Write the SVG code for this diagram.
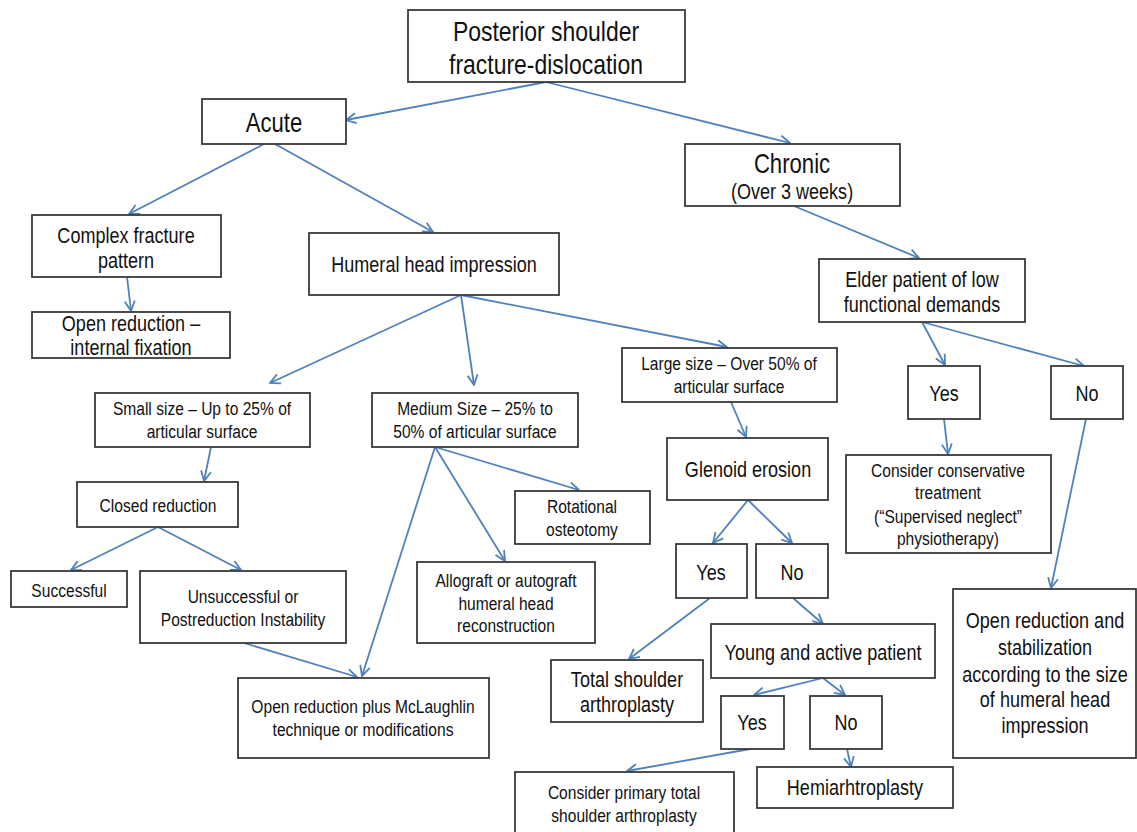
<svg xmlns="http://www.w3.org/2000/svg" width="1137" height="832" viewBox="0 0 1137 832">
<defs>
<style>
.b{fill:#fff;stroke:#3a3a3a;stroke-width:1.8}
text{font-family:"Liberation Sans",Arial,sans-serif;fill:#111;text-anchor:middle}
.s{font-size:19px}
.m{font-size:22px}
.l{font-size:27px}
.c line{stroke:#4f81bd;stroke-width:1.8;marker-end:url(#ah)}
</style>
<marker id="ah" viewBox="0 0 12 12" refX="11" refY="6" markerWidth="12" markerHeight="12" markerUnits="userSpaceOnUse" orient="auto">
<path d="M1,1 L11,6 L1,11" fill="none" stroke="#4f81bd" stroke-width="1.8"/>
</marker>
</defs>
<rect width="1137" height="832" fill="#fff"/>
<g class="c" id="connectors">
<line x1="546" y1="82" x2="346" y2="120"/>
<line x1="546" y1="82" x2="790" y2="143"/>
<line x1="264" y1="144" x2="129" y2="214"/>
<line x1="275" y1="144" x2="433" y2="232"/>
<line x1="127" y1="277" x2="131" y2="311"/>
<line x1="461" y1="295" x2="270" y2="383"/>
<line x1="461" y1="295" x2="474" y2="385"/>
<line x1="461" y1="295" x2="727" y2="347"/>
<line x1="794" y1="206" x2="919" y2="258"/>
<line x1="922" y1="322" x2="945" y2="365"/>
<line x1="922" y1="322" x2="1084" y2="366"/>
<line x1="211" y1="447" x2="204" y2="481"/>
<line x1="435" y1="447" x2="362" y2="676"/>
<line x1="435" y1="447" x2="505" y2="561"/>
<line x1="435" y1="447" x2="579" y2="490"/>
<line x1="731" y1="402" x2="746" y2="437"/>
<line x1="944" y1="419" x2="948" y2="454"/>
<line x1="1086" y1="419" x2="1051" y2="588"/>
<line x1="748" y1="500" x2="713" y2="543"/>
<line x1="748" y1="500" x2="792" y2="543"/>
<line x1="158" y1="527" x2="71" y2="570"/>
<line x1="158" y1="527" x2="241" y2="570"/>
<line x1="244" y1="643" x2="357" y2="677"/>
<line x1="710" y1="598" x2="629" y2="659"/>
<line x1="793" y1="598" x2="823" y2="624"/>
<line x1="823" y1="678" x2="754" y2="695"/>
<line x1="823" y1="678" x2="845" y2="695"/>
<line x1="750" y1="749" x2="627" y2="771"/>
<line x1="847" y1="749" x2="851" y2="767"/>
</g>
<g id="root"><rect class="b" x="408" y="10" width="277" height="72"/><text style="font-size:28px" transform="translate(546 41) scale(.82 1)">Posterior shoulder</text><text style="font-size:28px" transform="translate(546 74) scale(.82 1)">fracture-dislocation</text></g>
<g id="acute"><rect class="b" x="202" y="99" width="144" height="45"/><text class="l" transform="translate(274 132) scale(.82 1)">Acute</text></g>
<g id="chronic"><rect class="b" x="685" y="144" width="215" height="62"/><text class="l" transform="translate(792 173) scale(.82 1)">Chronic</text><text style="font-size:22px" transform="translate(792 199) scale(.82 1)">(Over 3 weeks)</text></g>
<g id="complex"><rect class="b" x="32" y="215" width="189" height="62"/><text class="m" transform="translate(126 243) scale(.82 1)">Complex fracture</text><text class="m" transform="translate(126 268) scale(.82 1)">pattern</text></g>
<g id="orif"><rect class="b" x="32" y="312" width="198" height="46"/><text class="m" transform="translate(131 331) scale(.82 1)">Open reduction –</text><text class="m" transform="translate(131 355) scale(.82 1)">internal fixation</text></g>
<g id="humeral"><rect class="b" x="309" y="233" width="250" height="62"/><text class="m" transform="translate(434 272) scale(.82 1)">Humeral head impression</text></g>
<g id="elder"><rect class="b" x="819" y="259" width="206" height="63"/><text class="m" transform="translate(922 287) scale(.82 1)">Elder patient of low</text><text class="m" transform="translate(922 312) scale(.82 1)">functional demands</text></g>
<g id="large"><rect class="b" x="622" y="348" width="215" height="54"/><text class="s" transform="translate(729 370) scale(.82 1)">Large size – Over 50% of</text><text class="s" transform="translate(729 393) scale(.82 1)">articular surface</text></g>
<g id="yes1"><rect class="b" x="908" y="366" width="72" height="53"/><text class="m" transform="translate(944 401) scale(.82 1)">Yes</text></g>
<g id="no1"><rect class="b" x="1051" y="366" width="72" height="53"/><text class="m" transform="translate(1087 401) scale(.82 1)">No</text></g>
<g id="small"><rect class="b" x="95" y="393" width="215" height="54"/><text class="s" transform="translate(202 415) scale(.82 1)">Small size – Up to 25% of</text><text class="s" transform="translate(202 438) scale(.82 1)">articular surface</text></g>
<g id="medium"><rect class="b" x="372" y="393" width="206" height="54"/><text class="s" transform="translate(475 415) scale(.82 1)">Medium Size – 25% to</text><text class="s" transform="translate(475 438) scale(.82 1)">50% of articular surface</text></g>
<g id="glenoid"><rect class="b" x="667" y="438" width="161" height="62"/><text class="m" transform="translate(748 477) scale(.82 1)">Glenoid erosion</text></g>
<g id="conservative"><rect class="b" x="846" y="455" width="205" height="98"/><text class="s" transform="translate(948 477) scale(.82 1)">Consider conservative</text><text class="s" transform="translate(948 499) scale(.82 1)">treatment</text><text class="s" transform="translate(948 523) scale(.82 1)">(“Supervised neglect”</text><text class="s" transform="translate(948 545) scale(.82 1)">physiotherapy)</text></g>
<g id="closed"><rect class="b" x="77" y="482" width="161" height="45"/><text class="s" transform="translate(158 512) scale(.82 1)">Closed reduction</text></g>
<g id="rotational"><rect class="b" x="515" y="491" width="135" height="53"/><text class="s" transform="translate(582 513) scale(.82 1)">Rotational</text><text class="s" transform="translate(582 536) scale(.82 1)">osteotomy</text></g>
<g id="yes2"><rect class="b" x="676" y="544" width="71" height="54"/><text class="m" transform="translate(711 580) scale(.82 1)">Yes</text></g>
<g id="no2"><rect class="b" x="756" y="544" width="72" height="54"/><text class="m" transform="translate(792 580) scale(.82 1)">No</text></g>
<g id="successful"><rect class="b" x="11" y="571" width="116" height="36"/><text class="s" transform="translate(69 597) scale(.82 1)">Successful</text></g>
<g id="unsuccessful"><rect class="b" x="140" y="571" width="206" height="72"/><text class="s" transform="translate(243 603) scale(.82 1)">Unsuccessful or</text><text class="s" transform="translate(243 626) scale(.82 1)">Postreduction Instability</text></g>
<g id="allograft"><rect class="b" x="417" y="562" width="178" height="81"/><text class="s" transform="translate(506 587) scale(.82 1)">Allograft or autograft</text><text class="s" transform="translate(506 610) scale(.82 1)">humeral head</text><text class="s" transform="translate(506 632) scale(.82 1)">reconstruction</text></g>
<g id="stabilization"><rect class="b" x="953" y="589" width="183" height="169"/><text class="m" transform="translate(1045 628) scale(.82 1)">Open reduction and</text><text class="m" transform="translate(1045 655) scale(.82 1)">stabilization</text><text class="m" transform="translate(1045 682) scale(.82 1)">according to the size</text><text class="m" transform="translate(1045 707) scale(.82 1)">of humeral head</text><text class="m" transform="translate(1045 733) scale(.82 1)">impression</text></g>
<g id="young"><rect class="b" x="711" y="624" width="224" height="54"/><text class="m" transform="translate(823 660) scale(.82 1)">Young and active patient</text></g>
<g id="total"><rect class="b" x="551" y="660" width="152" height="62"/><text class="m" transform="translate(627 687) scale(.82 1)">Total shoulder</text><text class="m" transform="translate(627 712) scale(.82 1)">arthroplasty</text></g>
<g id="mclaughlin"><rect class="b" x="238" y="678" width="251" height="80"/><text class="s" transform="translate(363 713) scale(.82 1)">Open reduction plus McLaughlin</text><text class="s" transform="translate(363 736) scale(.82 1)">technique or modifications</text></g>
<g id="yes3"><rect class="b" x="721" y="696" width="63" height="53"/><text class="m" transform="translate(752 730) scale(.82 1)">Yes</text></g>
<g id="no3"><rect class="b" x="810" y="696" width="72" height="53"/><text class="m" transform="translate(846 730) scale(.82 1)">No</text></g>
<g id="primary"><rect class="b" x="515" y="772" width="219" height="70"/><text class="s" transform="translate(624 799) scale(.82 1)">Consider primary total</text><text class="s" transform="translate(624 822) scale(.82 1)">shoulder arthroplasty</text></g>
<g id="hemi"><rect class="b" x="757" y="767" width="196" height="41"/><text class="m" transform="translate(855 795) scale(.82 1)">Hemiarhtroplasty</text></g>
</svg>
